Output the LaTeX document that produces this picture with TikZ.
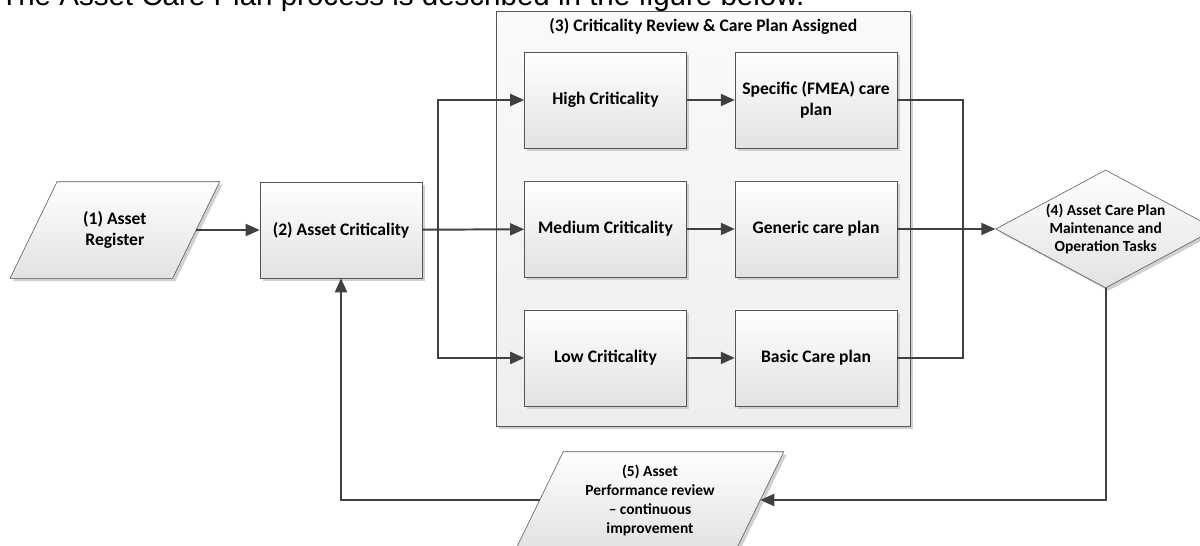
\documentclass[tikz,border=0pt]{standalone}
\usepackage{fontspec}
\setmainfont{Carlito}
\newfontfamily\headfont{Liberation Sans}
\usetikzlibrary{positioning, arrows.meta, calc, fit, backgrounds, shapes.geometric, shadows}

\definecolor{edgegray}{RGB}{85,85,85}
\definecolor{wiregray}{RGB}{64,64,64}
\definecolor{shadegray}{RGB}{226,226,226}
\definecolor{panelgray}{RGB}{238,238,238}
\definecolor{shadowgray}{RGB}{208,208,208}

\begin{document}
\begin{tikzpicture}[
  node distance=0.81cm and 1.2cm,
  align=center,
  font=\bfseries\fontsize{12.5}{14.5}\selectfont,
  % block styles
  shade/.style={draw=edgegray, top color=white, bottom color=shadegray,
    drop shadow={shadow xshift=0.07cm, shadow yshift=-0.07cm, fill=shadowgray, opacity=1}},
  box/.style={shade, rectangle, minimum width=4.05cm, minimum height=2.4cm},
  iobox/.style={rectangle, minimum height=2.4cm, inner sep=0pt},
  decision/.style={shade, diamond, aspect=1.86, inner sep=0pt, minimum width=5.5cm, minimum height=2.95cm,
    font=\bfseries\fontsize{11}{13}\selectfont},
  groupbox/.style={draw=edgegray, rectangle, inner sep=0pt, top color=white!98!black, bottom color=panelgray,
    drop shadow={shadow xshift=0.07cm, shadow yshift=-0.07cm, fill=shadowgray, opacity=1}},
  % connector styles
  line/.style={draw=wiregray, line width=1.4pt, -{Triangle[length=0.35cm, width=0.3cm]}},
  wire/.style={draw=wiregray, line width=1.4pt}
]
  \useasboundingbox (0,0) rectangle (30,-13.625);

  % intro sentence, cut by the page top
  \node[anchor=base west, inner sep=0pt, font=\headfont\fontsize{21}{25}\selectfont] (intro) at (0,-0.14)
    {The Asset Care Plan process is described in the figure below.};

  % ==========================================
  % INPUT AND CRITICALITY
  % ==========================================
  \node[box] (criticality) at (8.525,-5.75) {(2) Asset Criticality};
  \node[iobox, minimum width=4.05cm, left=1.59cm of criticality] (register) {(1) Asset\\Register};
  \draw[line] (register) -- (criticality);

  % ==========================================
  % CRITICALITY REVIEW: THREE LEVELS
  % ==========================================
  \node[box] (high) at (15.1375,-2.5) {High Criticality};
  \node[box, right=of high] (specific) {Specific (FMEA) care\\plan};
  \node[box, below=of high] (medium) {Medium Criticality};
  \node[box, below=of specific] (generic) {Generic care plan};
  \node[box, below=of medium] (low) {Low Criticality};
  \node[box, below=of generic] (basic) {Basic Care plan};

  \draw[line] (high) -- (specific);
  \draw[line] (medium) -- (generic);
  \draw[line] (low) -- (basic);

  \coordinate (review_nw) at ($(high.north west)+(-0.7,1.0)$);
  \coordinate (review_se) at ($(basic.south east)+(0.325,-0.5)$);
  \begin{scope}[on background layer]
    \node[groupbox, fit=(review_nw) (review_se)] (review) {};
  \end{scope}
  \node[anchor=base] at ($(review.north)+(0,-0.5)$) {(3) Criticality Review \& Care Plan Assigned};

  % split from criticality to the three levels
  \coordinate (splitbus) at ([xshift=0.4cm]criticality.east);
  \draw[line] (criticality) -- (medium);
  \draw[line] (splitbus) |- (high);
  \draw[line] (splitbus) |- (low);

  % ==========================================
  % TASKS AND FEEDBACK
  % ==========================================
  \node[decision, right=2.45cm of generic] (tasks) {(4) Asset Care Plan\\Maintenance and\\Operation Tasks};

  \coordinate (joinbus) at ([xshift=1.65cm]generic.east);
  \draw[wire] (specific.east) -| (joinbus |- basic.east) -- (basic.east);
  \draw[line] (generic) -- (tasks);

  \node[iobox, minimum width=5.5cm, font=\bfseries\fontsize{11}{13.5}\selectfont] (perfreview) at (16.25,-12.5)
    {(5) Asset\\Performance review\\-- continuous\\improvement};

  \draw[line] (tasks.south) |- (perfreview.east);
  \draw[line] (perfreview.west) -| (criticality.south);

  % slanted input/output outlines behind the two text nodes
  \begin{scope}[on background layer]
    \path[shade] ([xshift=0.5875cm]register.north west) -- ([xshift=0.5875cm]register.north east)
      -- ([xshift=-0.5875cm]register.south east) -- ([xshift=-0.5875cm]register.south west) -- cycle;
    \path[shade] ([xshift=0.5875cm]perfreview.north west) -- ([xshift=0.5875cm]perfreview.north east)
      -- ([xshift=-0.5875cm]perfreview.south east) -- ([xshift=-0.5875cm]perfreview.south west) -- cycle;
  \end{scope}

\end{tikzpicture}
\end{document}
